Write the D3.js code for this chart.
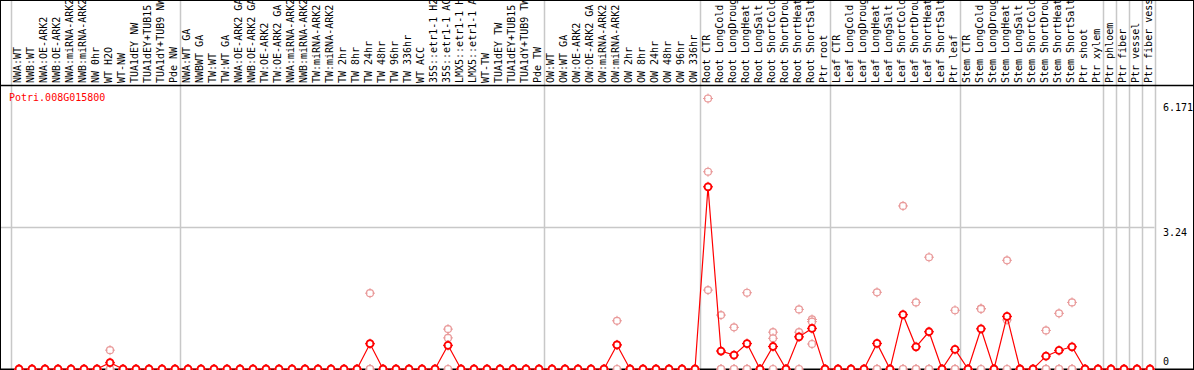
<!DOCTYPE html>
<html>
<head>
<meta charset="utf-8">
<script src="https://cdn.jsdelivr.net/npm/d3@7"></script>
<style>
    body { margin: 0; background: #fff; }
    text { font-family: "DejaVu Sans Mono", "Liberation Mono", monospace; font-size: 10px; }
</style>
</head>
<body>
<svg id="chart" width="1194" height="370"></svg>
<script>
var geneName = "Potri.008G015800";

var sampleLabels = [
    "NWA:WT", "NWB:WT", "NWA:OE-ARK2", "NWB:OE-ARK2", "NWA:miRNA-ARK2", "NWB:miRNA-ARK2", "NW 0hr", "WT H2O", "WT-NW", "TUA1dEY NW", "TUA1dEY+TUB15", "TUA1dY+TUB9 NW", "Pde NW",
    "NWA:WT GA", "NWBWT GA", "TW:WT", "TW:WT GA", "NWA:OE-ARK2 GA", "NWB:OE-ARK2 GA", "TW:OE-ARK2", "TW:OE-ARK2 GA", "NWA:miRNA-ARK2", "NWB:miRNA-ARK2", "TW:miRNA-ARK2", "TW:miRNA-ARK2",
    "TW 2hr", "TW 8hr", "TW 24hr", "TW 48hr", "TW 96hr", "TW 336hr", "WT ACC", "35S::etr1-1 H2", "35S::etr1-1 AC", "LMX5::etr1-1 H", "LMX5::etr1-1 A", "WT-TW", "TUA1dEY TW", "TUA1dEY+TUB15", "TUA1dY+TUB9 TW", "Pde TW",
    "OW:WT", "OW:WT GA", "OW:OE-ARK2", "OW:OE-ARK2 GA", "OW:miRNA-ARK2", "OW:miRNA-ARK2", "OW 2hr", "OW 8hr", "OW 24hr", "OW 48hr", "OW 96hr", "OW 336hr",
    "Root CTR", "Root LongCold", "Root LongDroug", "Root LongHeat", "Root LongSalt", "Root ShortCold", "Root ShortDrou", "Root ShortHeat", "Root ShortSalt", "Ptr root",
    "Leaf CTR", "Leaf LongCold", "Leaf LongDroug", "Leaf LongHeat", "Leaf LongSalt", "Leaf ShortCold", "Leaf ShortDrou", "Leaf ShortHeat", "Leaf ShortSalt", "Ptr leaf",
    "Stem CTR", "Stem LongCold", "Stem LongDroug", "Stem LongHeat", "Stem LongSalt", "Stem ShortCold", "Stem ShortDrou", "Stem ShortHeat", "Stem ShortSalt", "Ptr shoot", "Ptr xylem",
    "Ptr phloem", "Ptr fiber", "Ptr vessel", "Ptr fiber vess"
];

// number of samples in each experiment block (separated by gray lines)
var groupSizes = [13, 28, 12, 10, 10, 11, 1, 1, 1, 1];

// replicate values, one entry per sample
var rep1 = [
    0, 0, 0, 0, 0, 0, 0, 0.43, 0, 0, 0, 0, 0,
    0, 0, 0, 0, 0, 0, 0, 0, 0, 0, 0, 0, 0, 0, 1.73, 0, 0, 0, 0, 0, 0.91, 0, 0, 0, 0, 0, 0, 0,
    0, 0, 0, 0, 0, 1.10, 0, 0, 0, 0, 0, 0,
    6.171, 1.23, 0.95, 1.74, 0, 0.84, 0, 1.36, 1.13, 0,
    0, 0, 0, 1.75, 0, 3.72, 1.52, 2.55, 0, 1.34,
    0, 1.38, 0, 2.48, 0, 0, 0.88, 1.27, 1.52, 0, 0,
    0, 0, 0, 0
];
var rep2 = [
    0, 0, 0, 0, 0, 0, 0, 0, 0, 0, 0, 0, 0,
    0, 0, 0, 0, 0, 0, 0, 0, 0, 0, 0, 0, 0, 0, 0, 0, 0, 0, 0, 0, 0.71, 0, 0, 0, 0, 0, 0, 0,
    0, 0, 0, 0, 0, 0.55, 0, 0, 0, 0, 0, 0,
    4.50, 0, 0, 0, 0, 0.70, 0, 0.84, 1.08, 0,
    0, 0, 0, 0, 0, 0, 0, 0, 0, 0,
    0, 1.37, 0, 1.12, 0, 0, 0, 0, 0, 0, 0,
    0, 0, 0, 0
];
var rep3 = [
    0, 0, 0, 0, 0, 0, 0, 0, 0, 0, 0, 0, 0,
    0, 0, 0, 0, 0, 0, 0, 0, 0, 0, 0, 0, 0, 0, 0, 0, 0, 0, 0, 0, 0, 0, 0, 0, 0, 0, 0, 0,
    0, 0, 0, 0, 0, 0, 0, 0, 0, 0, 0, 0,
    1.80, 0, 0, 0, 0, 0, 0, 0, 0.57, 0,
    0, 0, 0, 0, 0, 0, 0, 0, 0, 0,
    0, 0, 0, 0, 0, 0, 0, 0, 0, 0, 0,
    0, 0, 0, 0
];

var yTickValues = [0, 3.24];

var width = 1194,
    height = 370;
var plotLeft = 10.5,
    plotRight = 1154.5,
    headerBottom = 85,
    zeroY = 369;

var svg = d3.select("#chart");
var idx = d3.range(sampleLabels.length);
var means = idx.map(function (i) {
    return d3.mean([rep1[i], rep2[i], rep3[i]]);
});
var maxVal = d3.max(rep1.concat(rep2, rep3));

var x = d3.scaleBand().domain(idx).range([plotLeft, plotRight]).padding(0);
var y = d3.scaleLinear().domain([0, maxVal * 1.05]).range([zeroY, headerBottom]);
var cx = function (i) { return x(i) + 8.5; };

// group separators
var bounds = [0];
groupSizes.forEach(function (s) { bounds.push(bounds[bounds.length - 1] + s); });
svg.selectAll(".sep")
    .data(bounds)
    .enter().append("line")
    .attr("x1", function (b) { return Math.round(plotLeft + b * x.bandwidth()) + 0.5; })
    .attr("x2", function (b) { return Math.round(plotLeft + b * x.bandwidth()) + 0.5; })
    .attr("y1", 0).attr("y2", zeroY)
    .attr("stroke", "#c8c8c8").attr("stroke-width", 1.5);

// middle gridline
svg.append("line")
    .attr("x1", 0).attr("x2", plotRight)
    .attr("y1", Math.round(y(maxVal * 1.05 / 2)) + 0.5)
    .attr("y2", Math.round(y(maxVal * 1.05 / 2)) + 0.5)
    .attr("stroke", "#c8c8c8").attr("stroke-width", 1.5);

// frame and header line
svg.append("rect")
    .attr("x", 0.5).attr("y", 0.5).attr("width", width - 1).attr("height", height - 1)
    .attr("fill", "none").attr("stroke", "#000");
svg.append("line")
    .attr("x1", 0).attr("x2", width).attr("y1", headerBottom + 0.5).attr("y2", headerBottom + 0.5)
    .attr("stroke", "#000").attr("stroke-width", 1.5);
svg.append("line")
    .attr("x1", 0).attr("x2", width).attr("y1", zeroY + 0.5).attr("y2", zeroY + 0.5)
    .attr("stroke", "#000").attr("stroke-width", 2);

// sample labels
svg.selectAll(".lab")
    .data(idx)
    .enter().append("text")
    .attr("transform", function (i) { return "translate(" + (x(i) + 10.5) + "," + 83 + ") rotate(-90)"; })
    .attr("fill", "#000")
    .text(function (i) { return sampleLabels[i]; });

// gene name
svg.append("text")
    .attr("x", 9).attr("y", 101)
    .attr("fill", "#ff0000")
    .text(geneName);

// y labels at the right
svg.append("text").attr("x", 1163).attr("y", y(maxVal) + 12).text(d3.format(".4~f")(maxVal));
svg.append("text").attr("x", 1163).attr("y", y(yTickValues[1]) + 9).text(yTickValues[1]);
svg.append("text").attr("x", 1163).attr("y", y(yTickValues[0]) - 4).text(yTickValues[0]);

function marker(sel, color, sw) {
    var r = 3.5;
    sel.append("circle").attr("r", r).attr("fill", "#fff").attr("stroke", color).attr("stroke-width", sw);
    sel.append("path")
        .attr("d", "M0," + (-r - 1.5) + "V" + (-r + 1) + "M0," + (r - 1) + "V" + (r + 1.5) +
            "M" + (-r - 1.5) + ",0H" + (-r + 1) + "M" + (r - 1) + ",0H" + (r + 1.5))
        .attr("stroke", color).attr("stroke-width", 1).attr("fill", "none");
}

// replicate points
var reps = [];
[rep1, rep2, rep3].forEach(function (r) {
    idx.forEach(function (i) { reps.push({ i: i, v: r[i] }); });
});
svg.selectAll(".rep")
    .data(reps)
    .enter().append("g")
    .attr("transform", function (d) { return "translate(" + cx(d.i) + "," + y(d.v) + ")"; })
    .call(marker, "#e99a9a", 1.2);

// mean line
var line = d3.line()
    .x(function (i) { return cx(i); })
    .y(function (i) { return y(means[i]); });
svg.append("path")
    .datum(idx)
    .attr("d", line)
    .attr("fill", "none")
    .attr("stroke", "#ff0000")
    .attr("stroke-width", 1.2);

svg.selectAll(".mean")
    .data(idx)
    .enter().append("g")
    .attr("transform", function (i) { return "translate(" + cx(i) + "," + y(means[i]) + ")"; })
    .call(marker, "#ff0000", 1.8);
</script>
</body>
</html>
